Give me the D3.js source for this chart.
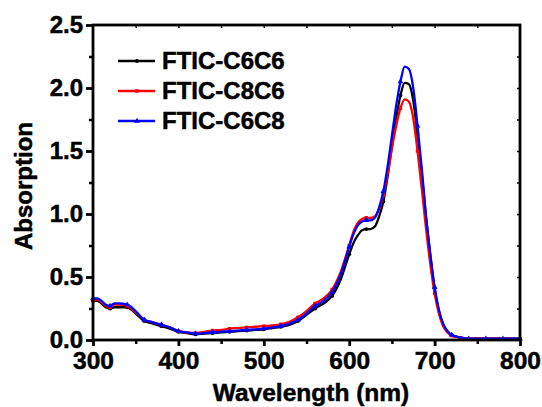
<!DOCTYPE html>
<html><head><meta charset="utf-8">
<script src="https://cdn.jsdelivr.net/npm/d3@7"></script>
<style>body{margin:0;background:#fff}svg{display:block}text{font-family:"Liberation Sans",Arial,sans-serif;font-weight:bold;fill:#000;stroke:#000;stroke-width:0.5px}</style>
</head><body><svg id="c" width="542" height="407"></svg>
<script>
const wavelengths = [300,305,310,315,320,325,330,340,350,360,370,380,390,400,410,420,430,440,450,460,470,480,490,500,510,520,530,540,550,560,570,580,590,600,605,610,615,620,625,630,635,640,645,650,655,660,665,670,675,680,685,690,695,700,705,710,715,720,730,740,750,760,770,780,790,800];
const seriesNames = ["FTIC-C6C6","FTIC-C8C6","FTIC-C6C8"];
const c6c6 = [0.31,0.31,0.29,0.26,0.25,0.26,0.26,0.26,0.21,0.15,0.13,0.11,0.09,0.065,0.055,0.045,0.05,0.055,0.06,0.065,0.07,0.075,0.08,0.085,0.095,0.105,0.12,0.15,0.20,0.25,0.29,0.35,0.48,0.68,0.77,0.83,0.87,0.88,0.88,0.90,0.98,1.10,1.30,1.54,1.76,1.94,2.04,2.03,1.90,1.63,1.32,0.97,0.67,0.41,0.23,0.12,0.07,0.04,0.02,0.01,0.01,0.01,0.01,0.01,0.01,0.01];
const c8c6 = [0.32,0.32,0.30,0.27,0.26,0.28,0.28,0.27,0.22,0.16,0.14,0.12,0.10,0.07,0.06,0.055,0.065,0.075,0.08,0.09,0.095,0.10,0.105,0.11,0.115,0.125,0.145,0.18,0.23,0.29,0.33,0.40,0.54,0.75,0.86,0.93,0.96,0.97,0.97,0.98,1.04,1.15,1.32,1.52,1.70,1.84,1.91,1.89,1.76,1.50,1.20,0.88,0.60,0.37,0.21,0.11,0.06,0.035,0.02,0.01,0.01,0.01,0.01,0.01,0.01,0.01];
const c6c8 = [0.33,0.33,0.31,0.28,0.27,0.29,0.29,0.28,0.23,0.16,0.14,0.12,0.10,0.07,0.06,0.05,0.055,0.06,0.065,0.07,0.075,0.08,0.085,0.09,0.10,0.11,0.13,0.16,0.21,0.27,0.31,0.38,0.52,0.74,0.84,0.91,0.94,0.95,0.95,0.97,1.05,1.18,1.38,1.62,1.86,2.05,2.17,2.15,2.00,1.70,1.36,0.98,0.68,0.42,0.24,0.13,0.07,0.04,0.02,0.01,0.01,0.01,0.01,0.01,0.01,0.01];
const colors = ["#000000","#ff0000","#0000ff"];
const markerTypes = ["circle","square","triangle"];
const xTicks = [300,400,500,600,700,800];
const yTicks = [0.0,0.5,1.0,1.5,2.0,2.5];

const svg = d3.select("#c");
const L=93,R=520,T=25,B=340;
const x = d3.scaleLinear().domain([300,800]).range([L,R]);
const y = d3.scaleLinear().domain([0,2.5]).range([B,T]);
const allSeries=[c6c6,c8c6,c6c8];

const line = d3.line().x((d,i)=>x(wavelengths[i])).y(d=>y(d)).curve(d3.curveMonotoneX);
const sym = {circle:d3.symbolCircle,square:d3.symbolSquare,triangle:d3.symbolTriangle};
const symSize={circle:12,square:12,triangle:14};

allSeries.forEach((s,k)=>{
  svg.append("path").datum(s).attr("d",line).attr("fill","none").attr("stroke",colors[k]).attr("stroke-width",2.3);
  const pts = s.map((v,i)=>({w:wavelengths[i],v})).filter(p=>p.w%20===0);
  svg.selectAll(null).data(pts).enter().append("path")
    .attr("d",d3.symbol().type(sym[markerTypes[k]]).size(symSize[markerTypes[k]]))
    .attr("transform",p=>`translate(${x(p.w)},${y(p.v)})`).attr("fill",colors[k]);
});

// frame
svg.append("rect").attr("x",L).attr("y",T).attr("width",R-L).attr("height",B-T).attr("fill","none").attr("stroke","#000").attr("stroke-width",2.8);

function styleText(sel,size){sel.attr("font-size",size).style("font-family","Liberation Sans").style("font-weight","bold").style("stroke","#000").style("stroke-width","0.5px");}

// bottom axis
const xa = svg.append("g").attr("transform",`translate(0,${B})`)
  .call(d3.axisBottom(x).tickValues(xTicks).tickFormat(d3.format("d")).tickSize(6).tickPadding(6));
xa.select(".domain").remove();
xa.selectAll("line").attr("stroke-width",2.8);
styleText(xa.selectAll("text"),24.5);
svg.append("g").attr("transform",`translate(0,${B})`)
  .call(d3.axisBottom(x).tickValues(d3.range(350,800,100)).tickFormat("").tickSize(4))
  .call(g=>{g.select(".domain").remove();g.selectAll("line").attr("stroke-width",2.5);});
// top minor ticks (inward)
svg.append("g").attr("transform",`translate(0,${T})`)
  .call(d3.axisBottom(x).tickValues(d3.range(350,800,50)).tickFormat("").tickSize(3))
  .call(g=>{g.select(".domain").remove();g.selectAll("line").attr("stroke-width",1.5);});

// left axis
const ya = svg.append("g").attr("transform",`translate(${L},0)`)
  .call(d3.axisLeft(y).tickValues(yTicks).tickFormat(d3.format(".1f")).tickSize(7).tickPadding(3));
ya.select(".domain").remove();
ya.selectAll("line").attr("stroke-width",2.8);
styleText(ya.selectAll("text"),24);
svg.append("g").attr("transform",`translate(${L},0)`)
  .call(d3.axisLeft(y).tickValues(d3.range(0.25,2.5,0.5)).tickFormat("").tickSize(4))
  .call(g=>{g.select(".domain").remove();g.selectAll("line").attr("stroke-width",2.5);});
// right minor ticks
svg.append("g").attr("transform",`translate(${R},0)`)
  .call(d3.axisLeft(y).tickValues(d3.range(0.25,2.5,0.25)).tickFormat("").tickSize(3))
  .call(g=>{g.select(".domain").remove();g.selectAll("line").attr("stroke-width",1.5);});

// titles
svg.append("text").attr("x",311).attr("y",401).attr("text-anchor","middle").attr("font-size",24.5).text("Wavelength (nm)");
svg.append("text").attr("transform","translate(32,186) rotate(-90)").attr("text-anchor","middle").attr("font-size",24).text("Absorption");

// legend
const legY=[61,91,121];
seriesNames.forEach((n,k)=>{
  svg.append("line").attr("x1",118).attr("x2",155).attr("y1",legY[k]).attr("y2",legY[k]).attr("stroke",colors[k]).attr("stroke-width",2.3);
  svg.append("path").attr("d",d3.symbol().type(sym[markerTypes[k]]).size(symSize[markerTypes[k]]))
    .attr("transform",`translate(137,${legY[k]})`).attr("fill",colors[k]);
  svg.append("text").attr("x",162).attr("y",legY[k]+8).attr("font-size",24).text(n);
});
</script></body></html>
